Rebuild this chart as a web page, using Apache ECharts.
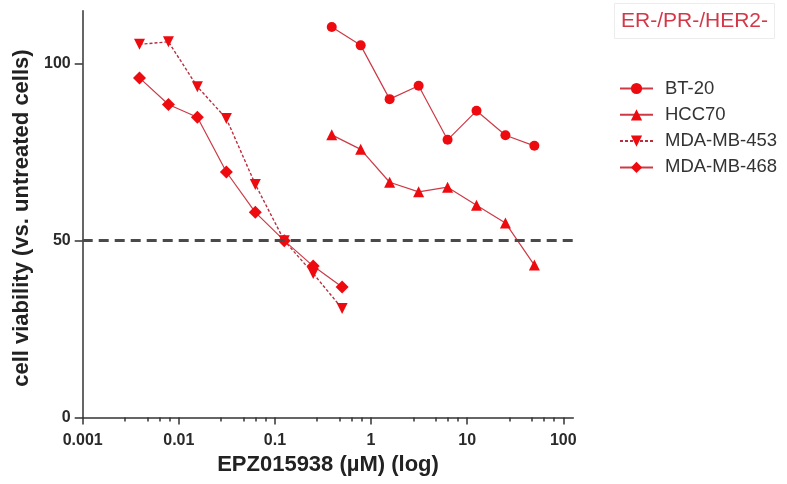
<!DOCTYPE html>
<html>
<head>
<meta charset="utf-8">
<script src="https://cdn.jsdelivr.net/npm/echarts@6.0.0/dist/echarts.min.js"></script>
<style>
html,body{margin:0;padding:0;background:#fff;}
#chart{width:787px;height:484px;}
</style>
</head>
<body>
<div id="chart"></div>
<script>
// ---- data ----
const concLow = [0.0039, 0.0078, 0.0156, 0.03125, 0.0625, 0.125, 0.25, 0.5];
const concHigh = [0.39, 0.78, 1.56, 3.125, 6.25, 12.5, 25, 50];
const bt20 = [110.4, 105.2, 90.0, 93.8, 78.5, 86.7, 79.8, 76.8];
const hcc70 = [79.9, 75.8, 66.5, 63.8, 65.1, 60.0, 55.0, 43.1];
const mdamb453 = [105.5, 106.2, 93.5, 84.5, 65.9, 50.0, 40.7, 30.8];
const mdamb468 = [96.0, 88.5, 84.9, 69.4, 58.0, 50.0, 42.8, 36.9];
const seriesNames = ['BT-20', 'HCC70', 'MDA-MB-453', 'MDA-MB-468'];
const xTickValues = [0.001, 0.01, 0.1, 1, 10, 100];
const xTickLabels = ['0.001', '0.01', '0.1', '1', '10', '100'];
const minorMultipliers = [2.75, 4.7, 6.3, 8.0];
const yTickValues = [0, 50, 100];
const threshold = 50;
const titleText = 'ER-/PR-/HER2-';
const xTitle = 'EPZ015938 (µM) (log)';
const yTitle = 'cell viability (vs. untreated cells)';

// ---- build ----
const lg = v => Math.log10(v);
const xMin = lg(0.001), xMax = 2.104;
const majorPos = xTickValues.map(lg);
const minorPos = [];
xTickValues.slice(0, -1).forEach(d => minorMultipliers.forEach(m => minorPos.push(lg(d * m))));
const pair = (xs, ys) => xs.map((c, i) => [lg(c), ys[i]]);

const FONT = 'Liberation Sans, Arial, sans-serif';
const markerColor = '#ee0b10';
const lineColor = '#cc3a46';

const chart = echarts.init(document.getElementById('chart'), null, {renderer: 'canvas'});
chart.setOption({
  animation: false,
  title: {
    text: titleText, left: 614, top: 3, padding: [7, 7],
    borderColor: '#ececec', borderWidth: 1,
    textStyle: {color: '#d23848', fontSize: 21, fontWeight: 'normal', fontFamily: FONT, lineHeight: 22}
  },
  legend: {
    orient: 'vertical', left: 614, top: 74,
    itemWidth: 33, itemHeight: 14, itemGap: 7.3,
    data: seriesNames,
    textStyle: {fontSize: 18.5, color: '#333', fontFamily: FONT, lineHeight: 18, padding: [0, 0, 0, 7]}
  },
  grid: {left: 82.7, right: 213.7, top: 10.7, bottom: 66.5, containLabel: false, outerBoundsMode: 'none'},
  xAxis: [{
    type: 'value', min: xMin, max: xMax, position: 'bottom',
    name: xTitle, nameLocation: 'middle', nameGap: 36,
    nameTextStyle: {fontSize: 22, fontWeight: 'bold', color: '#222', fontFamily: FONT},
    axisLine: {show: true, onZero: false, lineStyle: {color: '#333', width: 1.5}},
    axisTick: {show: true, length: 7, lineStyle: {color: '#333', width: 1.5}, customValues: majorPos},
    axisLabel: {
      customValues: majorPos, margin: 15, fontSize: 16, fontWeight: 'bold', color: '#2a2a2a', fontFamily: FONT,
      formatter: v => { const i = majorPos.findIndex(p => Math.abs(p - v) < 1e-6); return i >= 0 ? xTickLabels[i] : ''; }
    },
    splitLine: {show: false}
  }, {
    type: 'value', min: xMin, max: xMax, position: 'bottom',
    axisLine: {show: false, onZero: false},
    axisTick: {show: true, length: 4, lineStyle: {color: '#333', width: 1.5}, customValues: minorPos},
    axisLabel: {show: false},
    splitLine: {show: false}
  }],
  yAxis: {
    type: 'value', min: 0, max: 115, position: 'left',
    name: yTitle, nameLocation: 'middle', nameGap: 41,
    nameTextStyle: {fontSize: 22, fontWeight: 'bold', color: '#222', fontFamily: FONT, padding: [0, 8, 0, 0]},
    axisLine: {show: true, onZero: false, lineStyle: {color: '#333', width: 1.5}},
    axisTick: {show: true, length: 8, lineStyle: {color: '#333', width: 1.5}, customValues: yTickValues},
    axisLabel: {customValues: yTickValues, margin: 12, fontSize: 16, fontWeight: 'bold', color: '#2a2a2a', fontFamily: FONT},
    splitLine: {show: false}
  },
  series: [
    {
      name: seriesNames[0], type: 'line', data: pair(concHigh, bt20),
      symbol: 'circle', symbolSize: 10,
      itemStyle: {color: markerColor}, lineStyle: {color: lineColor, width: 1.2},
      markLine: {
        silent: true, symbol: ['none', 'none'], label: {show: false},
        lineStyle: {color: '#4a4a4a', width: 3, type: [10, 6]},
        data: [{yAxis: threshold}]
      }
    },
    {
      name: seriesNames[1], type: 'line', data: pair(concHigh, hcc70),
      symbol: 'triangle', symbolSize: 11,
      itemStyle: {color: markerColor}, lineStyle: {color: lineColor, width: 1.2}
    },
    {
      name: seriesNames[2], type: 'line', data: pair(concLow, mdamb453),
      symbol: 'triangle', symbolRotate: 180, symbolSize: 11,
      itemStyle: {color: markerColor}, lineStyle: {color: '#b83040', width: 1.4, type: [3, 2]}
    },
    {
      name: seriesNames[3], type: 'line', data: pair(concLow, mdamb468),
      symbol: 'diamond', symbolSize: 13,
      itemStyle: {color: markerColor}, lineStyle: {color: lineColor, width: 1.2}
    }
  ]
});
</script>
</body>
</html>
